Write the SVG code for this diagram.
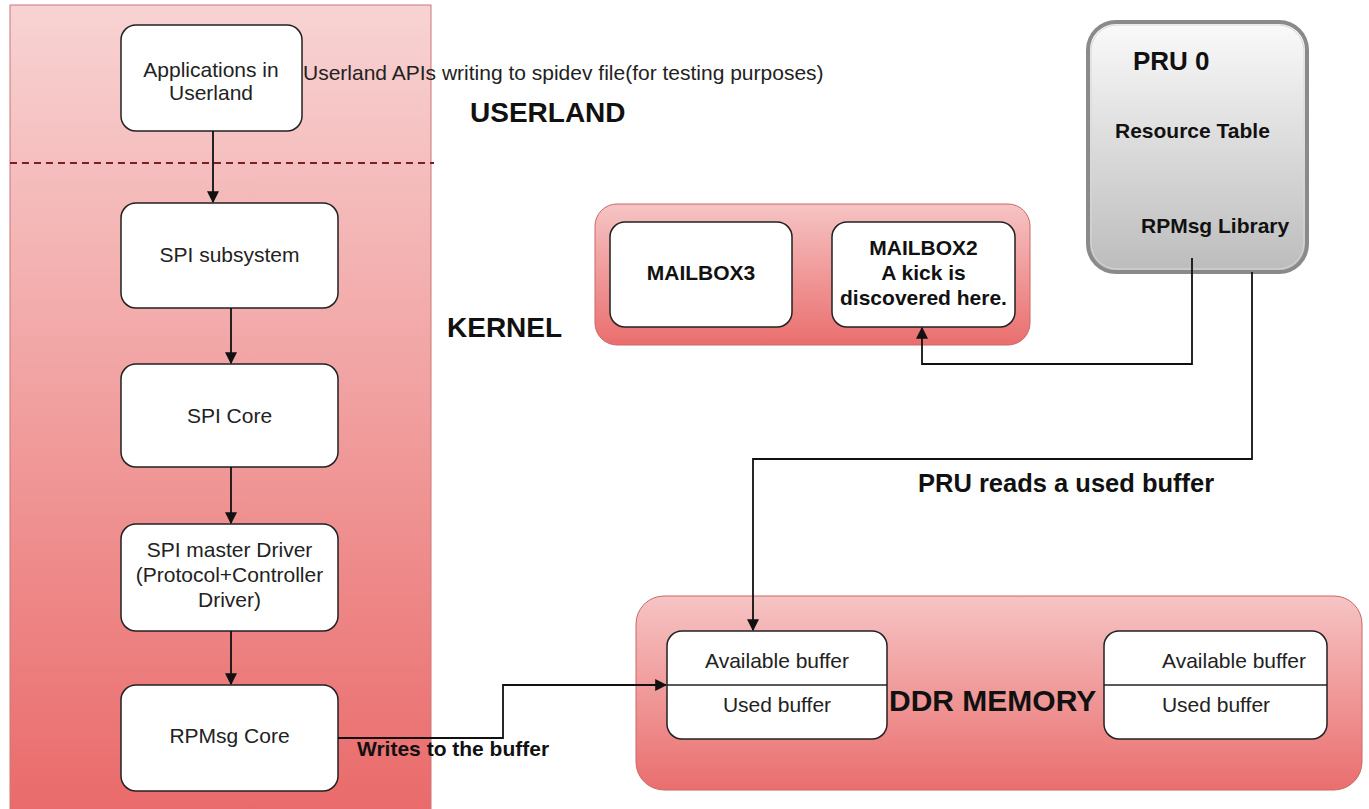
<svg xmlns="http://www.w3.org/2000/svg" width="1369" height="809" viewBox="0 0 1369 809">
<defs>
<linearGradient id="gLeft" x1="0" y1="0" x2="0" y2="1">
<stop offset="0" stop-color="#f8d3d3"/>
<stop offset="1" stop-color="#ea6a6a"/>
</linearGradient>
<linearGradient id="gRed" x1="0" y1="0" x2="0" y2="1">
<stop offset="0" stop-color="#f6c4c4"/>
<stop offset="1" stop-color="#ea6e6e"/>
</linearGradient>
<linearGradient id="gGray" x1="0" y1="0" x2="0" y2="1">
<stop offset="0" stop-color="#fafafa"/>
<stop offset="1" stop-color="#bcbcbc"/>
</linearGradient>
<marker id="arr" viewBox="0 0 10 10" refX="9" refY="5" markerWidth="12" markerHeight="12" markerUnits="userSpaceOnUse" orient="auto">
<path d="M0,0 L10,5 L0,10 z" fill="#111"/>
</marker>
</defs>
<style>
.box{fill:#fff;stroke:#222;stroke-width:1.5}
.t{font-family:"Liberation Sans",Arial,sans-serif;font-size:21px;fill:#222;text-anchor:middle}
.b{font-family:"Liberation Sans",Arial,sans-serif;font-weight:bold;fill:#111}
.c{fill:none;stroke:#111;stroke-width:1.8}
</style>
<rect width="1369" height="809" fill="#fff"/>

<g id="kernel-userland-container">
<rect x="10" y="5" width="421" height="810" fill="url(#gLeft)" stroke="#c77" stroke-width="1"/>
<line x1="10" y1="163" x2="434" y2="163" stroke="#7a2020" stroke-width="2" stroke-dasharray="7,5"/>
</g>

<g id="applications">
<rect class="box" x="121" y="25" width="181" height="106" rx="15"/>
<text class="t" x="211" y="77">Applications in</text>
<text class="t" x="211" y="100">Userland</text>
</g>
<g id="spi-subsystem">
<rect class="box" x="121" y="203" width="217" height="105" rx="15"/>
<text class="t" x="229.5" y="262">SPI subsystem</text>
</g>
<g id="spi-core">
<rect class="box" x="121" y="364" width="217" height="103" rx="15"/>
<text class="t" x="229.5" y="423">SPI Core</text>
</g>
<g id="spi-master">
<rect class="box" x="121" y="524" width="217" height="107" rx="15"/>
<text class="t" x="229.5" y="557">SPI master Driver</text>
<text class="t" x="229.5" y="582">(Protocol+Controller</text>
<text class="t" x="229.5" y="607">Driver)</text>
</g>
<g id="rpmsg-core">
<rect class="box" x="121" y="685" width="217" height="106" rx="15"/>
<text class="t" x="229.5" y="743">RPMsg Core</text>
</g>

<g id="labels">
<text class="t" x="303" y="80" style="text-anchor:start">Userland APIs writing to spidev file(for testing purposes)</text>
<text class="b" x="470" y="122" font-size="28">USERLAND</text>
<text class="b" x="447" y="337" font-size="28">KERNEL</text>
</g>

<g id="mailboxes">
<rect x="595" y="204" width="435" height="141" rx="22" fill="url(#gRed)" stroke="#c66" stroke-width="1"/>
<g id="mailbox3">
<rect class="box" x="610" y="222" width="182" height="105" rx="15"/>
<text class="b" x="701" y="280" font-size="21" text-anchor="middle">MAILBOX3</text>
</g>
<g id="mailbox2">
<rect class="box" x="832" y="222" width="183" height="105" rx="15"/>
<text class="b" x="923.5" y="255" font-size="21" text-anchor="middle">MAILBOX2</text>
<text class="b" x="923.5" y="280" font-size="21" text-anchor="middle">A kick is</text>
<text class="b" x="923.5" y="305" font-size="21" text-anchor="middle">discovered here.</text>
</g>
</g>

<g id="pru0">
<rect x="1088" y="22" width="219" height="250" rx="28" fill="url(#gGray)" stroke="#8a8a8a" stroke-width="4"/>
<rect x="1091" y="25" width="213" height="244" rx="26" fill="none" stroke="#d8d8d8" stroke-width="1"/>
<text class="b" x="1133" y="70" font-size="26">PRU 0</text>
<text class="b" x="1115" y="138" font-size="21">Resource Table</text>
<text class="b" x="1141" y="233" font-size="21">RPMsg Library</text>
</g>

<g id="ddr-memory">
<rect x="636" y="596" width="726" height="194" rx="28" fill="url(#gRed)" stroke="#c66" stroke-width="1"/>
<text class="b" x="889" y="711" font-size="30">DDR MEMORY</text>
<g id="buffer-left">
<rect class="box" x="667" y="631" width="220" height="108" rx="15"/>
<line x1="667" y1="685" x2="887" y2="685" stroke="#222" stroke-width="1.5"/>
<text class="t" x="777" y="668">Available buffer</text>
<text class="t" x="777" y="712">Used buffer</text>
</g>
<g id="buffer-right">
<rect class="box" x="1104" y="631" width="223" height="108" rx="15"/>
<line x1="1104" y1="685" x2="1327" y2="685" stroke="#222" stroke-width="1.5"/>
<text class="t" x="1234" y="668">Available buffer</text>
<text class="t" x="1216" y="712">Used buffer</text>
</g>
</g>

<g id="connectors">
<path class="c" d="M213,131 V202" marker-end="url(#arr)"/>
<path class="c" d="M231,308 V363" marker-end="url(#arr)"/>
<path class="c" d="M231,467 V523" marker-end="url(#arr)"/>
<path class="c" d="M231,631 V684" marker-end="url(#arr)"/>
<path class="c" d="M338,738 H503 V685 H666" marker-end="url(#arr)"/>
<path class="c" d="M1192,258 V364 H922 V328" marker-end="url(#arr)"/>
<path class="c" d="M1252,272 V459 H753 V630" marker-end="url(#arr)"/>
<text class="b" x="357" y="756" font-size="21">Writes to the buffer</text>
<text class="b" x="918" y="492" font-size="25.5">PRU reads a used buffer</text>
</g>
</svg>
